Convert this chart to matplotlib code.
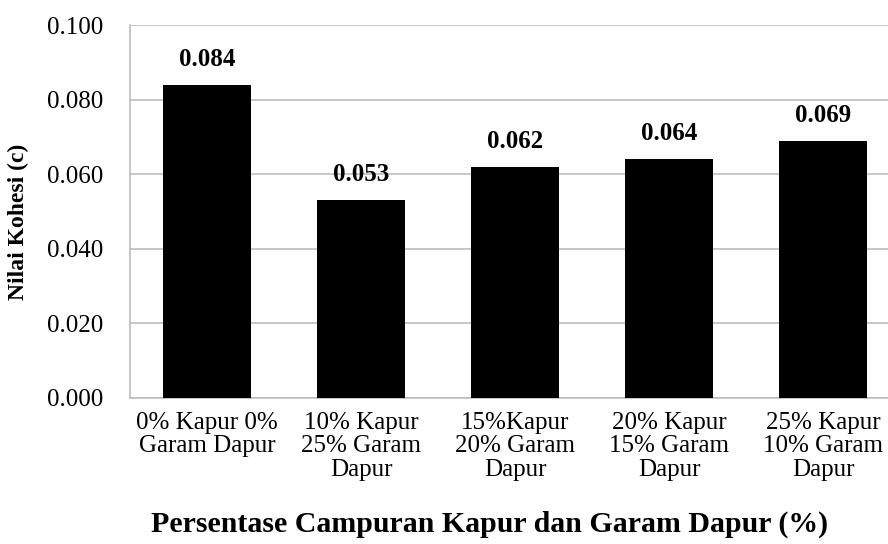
import matplotlib.pyplot as plt
import numpy as np

plt.rcParams['font.family'] = ['Liberation Serif', 'DejaVu Serif']

categories = ["0% Kapur 0%\nGaram Dapur",
              "10% Kapur\n25% Garam\nDapur",
              "15%Kapur\n20% Garam\nDapur",
              "20% Kapur\n15% Garam\nDapur",
              "25% Kapur\n10% Garam\nDapur"]
values = [0.084, 0.053, 0.062, 0.064, 0.069]
yticks = [0.000, 0.020, 0.040, 0.060, 0.080, 0.100]

fig = plt.figure(figsize=(8.88, 5.44), dpi=100)
# plot area runs past the right edge, as in the source image
ax = fig.add_axes([130/888, 1-398/544, 770/888, 373/544])

x = np.arange(len(values))
ax.bar(x, values, width=0.565, color='black', zorder=3)

for xi, v in zip(x, values):
    ax.annotate(f"{v:.3f}", (xi, v), xytext=(0, 10), textcoords='offset points',
                ha='center', va='bottom', fontsize=18, fontweight='bold')

ax.set_xlim(-0.5, len(values) - 0.5)
ax.set_ylim(0, 0.1)
ax.set_yticks(yticks)
ax.set_yticklabels([f"{t:.3f}" for t in yticks], fontsize=18)
ax.set_xticks(x)
ax.set_xticklabels(categories, fontsize=18, linespacing=1.08)
ax.tick_params(axis='y', length=0, pad=19)
ax.tick_params(axis='x', length=0, pad=10)
ax.yaxis.grid(True, color='#bdbdbd', linewidth=1.2, zorder=0)
for side in ['top', 'right']:
    ax.spines[side].set_visible(False)
for side in ['left', 'bottom']:
    ax.spines[side].set_color('#bdbdbd')
    ax.spines[side].set_linewidth(1.2)

fig.text(18/888, 1-222/544, "Nilai Kohesi (c)", rotation=90,
         ha='center', va='center', fontsize=17, fontweight='bold')
fig.text(490/888, 1-524/544, "Persentase Campuran Kapur dan Garam Dapur (%)",
         ha='center', va='center', fontsize=21.5, fontweight='bold')

fig.savefig("out.png", dpi=100)
